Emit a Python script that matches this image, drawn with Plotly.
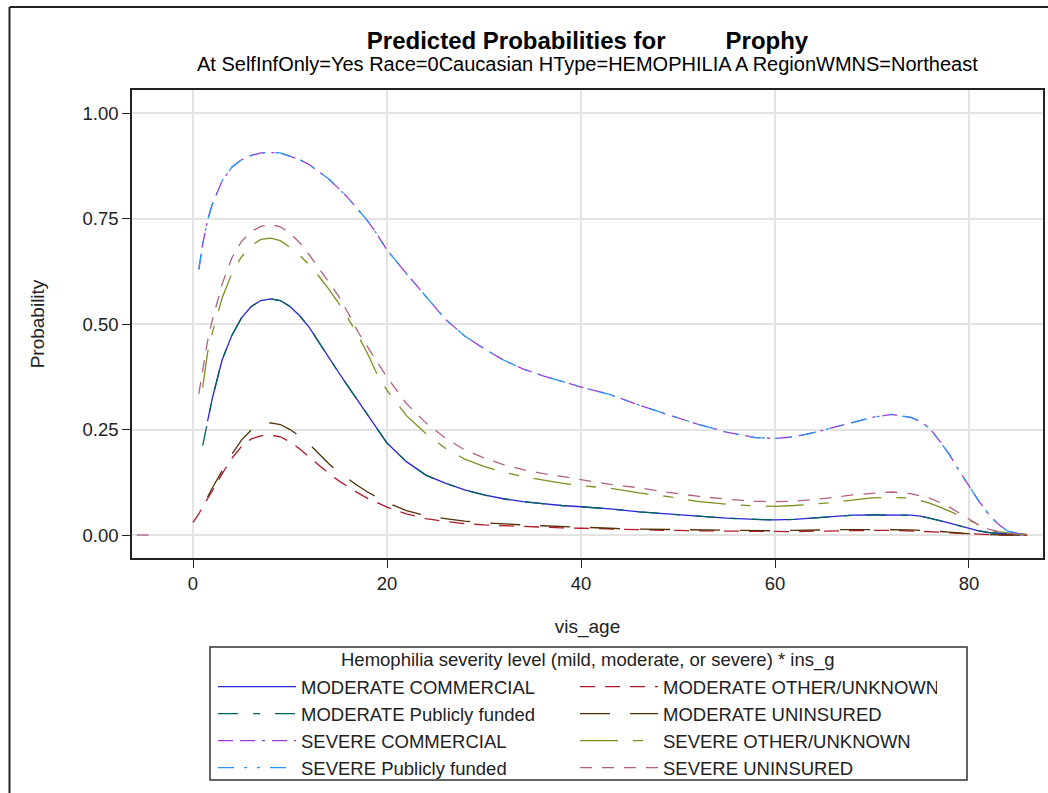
import plotly.graph_objects as go

N = None

# ---- data ----
AGE = [-5.8, -4.2, -3, 0, 0.6, 1, 1.5, 2,
       3, 4, 5, 6, 7, 8, 9, 10, 11, 12, 13, 14, 15, 16, 17, 18, 19, 20,
       22, 24, 26, 28, 30, 32, 34, 36, 38, 40,
       43, 46, 49, 52, 55, 58,
       60, 62, 64, 66, 68, 70, 72, 74,
       75, 76, 77, 78, 79, 80, 81, 82, 83, 84, 85, 86]

MOD_COMMERCIAL = [N, N, N, N, N, N, 0.270, 0.325,
                  0.415, 0.473, 0.515, 0.542, 0.556, 0.560, 0.556, 0.542, 0.520, 0.492, 0.456, 0.420, 0.386, 0.352, 0.318, 0.284, 0.250, 0.218,
                  0.174, 0.142, 0.123, 0.107, 0.095, 0.086, 0.079, 0.074, 0.070, 0.067,
                  0.062, 0.055, 0.050, 0.044, 0.040, 0.037,
                  0.036, 0.037, 0.040, 0.044, 0.047, 0.048, 0.048, 0.047,
                  0.045, 0.040, 0.034, 0.028, 0.022, 0.016, 0.010, 0.006, 0.004, 0.002, 0.001, 0.000]

MOD_OTHER = [N, N, N, 0.030, 0.050, 0.068, 0.085, 0.105,
             0.145, 0.182, 0.210, 0.228, 0.235, 0.237, 0.233, 0.221, 0.204, 0.184, 0.164, 0.146, 0.129, 0.114, 0.100, 0.087, 0.076, 0.066,
             0.050, 0.039, 0.032, 0.027, 0.024, 0.022, 0.020, 0.019, 0.017, 0.016,
             0.014, 0.012, 0.011, 0.010, 0.009, 0.008,
             0.008, 0.008, 0.009, 0.010, 0.010, 0.011, 0.011, 0.010,
             0.009, 0.008, 0.007, 0.005, 0.004, 0.002, 0.001, 0.000, 0.000, 0.000, 0.000, 0.000]

MOD_PUBLIC = [N, N, N, N, N, 0.212, 0.268, 0.325,
              0.415, 0.473, 0.515, 0.542, 0.556, 0.560, 0.556, 0.542, 0.520, 0.492, 0.456, 0.420, 0.386, 0.352, 0.318, 0.284, 0.250, 0.218,
              0.174, 0.142, 0.123, 0.107, 0.095, 0.086, 0.079, 0.074, 0.070, 0.067,
              0.062, 0.055, 0.050, 0.044, 0.040, 0.037,
              0.036, 0.037, 0.040, 0.044, 0.047, 0.048, 0.048, 0.047,
              0.045, 0.040, 0.034, 0.028, 0.022, 0.016, 0.010, 0.006, 0.004, 0.002, 0.001, 0.000]

MOD_UNINSURED = [N, N, N, N, N, N, 0.090, 0.112,
                 0.152, 0.192, 0.225, 0.249, 0.262, 0.266, 0.262, 0.250, 0.234, 0.215, 0.192, 0.169, 0.149, 0.132, 0.117, 0.102, 0.089, 0.077,
                 0.058, 0.046, 0.039, 0.033, 0.029, 0.026, 0.024, 0.022, 0.020, 0.018,
                 0.016, 0.014, 0.013, 0.012, 0.011, 0.010,
                 0.010, 0.011, 0.012, 0.013, 0.013, 0.013, 0.013, 0.012,
                 0.011, 0.010, 0.009, 0.007, 0.005, 0.003, 0.001, 0.001, 0.000, 0.000, 0.000, 0.000]

SEV_COMMERCIAL = [N, N, N, N, 0.630, 0.690, 0.747, 0.785,
                  0.840, 0.872, 0.890, 0.900, 0.906, 0.907, 0.906, 0.898, 0.890, 0.878, 0.862, 0.844, 0.822, 0.799, 0.772, 0.745, 0.712, 0.676,
                  0.620, 0.565, 0.512, 0.472, 0.442, 0.415, 0.394, 0.378, 0.364, 0.351,
                  0.333, 0.308, 0.285, 0.263, 0.244, 0.231,
                  0.229, 0.233, 0.243, 0.255, 0.266, 0.279, 0.286, 0.279,
                  0.269, 0.252, 0.222, 0.190, 0.152, 0.115, 0.081, 0.050, 0.026, 0.009, 0.004, 0.002]

SEV_OTHER = [N, N, N, N, N, 0.350, 0.432, 0.480,
             0.562, 0.620, 0.660, 0.686, 0.701, 0.704, 0.698, 0.682, 0.663, 0.640, 0.613, 0.583, 0.550, 0.513, 0.474, 0.430, 0.380, 0.343,
             0.283, 0.241, 0.206, 0.180, 0.163, 0.149, 0.139, 0.131, 0.123, 0.117,
             0.111, 0.100, 0.091, 0.080, 0.073, 0.069,
             0.068, 0.070, 0.073, 0.077, 0.083, 0.088, 0.089, 0.088,
             0.082, 0.075, 0.066, 0.057, 0.047, 0.035, 0.023, 0.013, 0.008, 0.005, 0.002, 0.001]

SEV_PUBLIC = [N, N, N, N, 0.630, 0.690, 0.747, 0.785,
              0.840, 0.872, 0.890, 0.900, 0.906, 0.907, 0.906, 0.898, 0.890, 0.878, 0.862, 0.844, 0.822, 0.799, 0.772, 0.745, 0.712, 0.676,
              0.620, 0.565, 0.512, 0.472, 0.442, 0.415, 0.394, 0.378, 0.364, 0.351,
              0.333, 0.308, 0.285, 0.263, 0.244, 0.231,
              0.229, 0.233, 0.243, 0.255, 0.266, 0.279, 0.286, 0.279,
              0.269, 0.252, 0.222, 0.190, 0.152, 0.115, 0.081, 0.050, 0.026, 0.009, 0.004, 0.002]

SEV_UNINSURED = [0.000, 0.000, N, N, 0.335, 0.395, 0.460, 0.510,
                 0.595, 0.657, 0.696, 0.720, 0.732, 0.736, 0.731, 0.716, 0.693, 0.664, 0.632, 0.600, 0.567, 0.526, 0.482, 0.446, 0.410, 0.374,
                 0.312, 0.266, 0.230, 0.202, 0.183, 0.167, 0.155, 0.146, 0.139, 0.131,
                 0.120, 0.112, 0.101, 0.092, 0.085, 0.080,
                 0.079, 0.080, 0.084, 0.089, 0.095, 0.098, 0.102, 0.098,
                 0.093, 0.087, 0.077, 0.066, 0.052, 0.037, 0.024, 0.014, 0.008, 0.004, 0.002, 0.001]

NAMES = ["MODERATE COMMERCIAL", "MODERATE OTHER/UNKNOWN",
         "MODERATE Publicly funded", "MODERATE UNINSURED",
         "SEVERE COMMERCIAL", "SEVERE OTHER/UNKNOWN",
         "SEVERE Publicly funded", "SEVERE UNINSURED"]
VALUES = [MOD_COMMERCIAL, MOD_OTHER, MOD_PUBLIC, MOD_UNINSURED,
          SEV_COMMERCIAL, SEV_OTHER, SEV_PUBLIC, SEV_UNINSURED]

X_TICKS = [0, 20, 40, 60, 80]
Y_TICKS = [0, 0.25, 0.5, 0.75, 1.0]

TITLE = "Predicted Probabilities for" + "\u00a0" * 9 + "Prophy"
SUBTITLE = "At SelfInfOnly=Yes Race=0Caucasian HType=HEMOPHILIA A RegionWMNS=Northeast"
LEGEND_TITLE = "Hemophilia severity level (mild, moderate, or severe) * ins_g"

# ---- styles ----
COLORS = ["#2A25D9", "#B2182B", "#01665E", "#543005",
          "#9D3CDB", "#7F8E1F", "#2597FA", "#B26084"]
DASHES = ["solid", "15px,10px", "20px,15px,7px,15px", "30px,20px",
          "15px,7px,15px,7px,3px,7px", "38px,15px,10px,15px",
          "16px,10px,3px,10px,3px,10px", "12px,10px"]

FONT = "Arial, Liberation Sans, Helvetica, sans-serif"

# plot-area pixel geometry (used to place paper-referenced decorations)
PL, PR, PT, PB = 132, 1043, 90, 558
PW, PH = PR - PL, PB - PT


def px(x):
    return (x - PL) / PW


def py(y):
    return (PB - y) / PH


fig = go.Figure()
for name, vals, col, dash in zip(NAMES, VALUES, COLORS, DASHES):
    fig.add_trace(go.Scatter(x=AGE, y=vals, mode="lines", name=name,
                             line=dict(color=col, width=1.3, dash=dash),
                             connectgaps=False))

axis_common = dict(showgrid=True, gridcolor="#e3e3e3", gridwidth=1.5,
                   zeroline=False, showline=True, linecolor="#222",
                   linewidth=1.5, mirror=True, ticks="outside", ticklen=8,
                   tickcolor="#222", tickwidth=1.2, automargin=False,
                   tickfont=dict(size=18.5, color="#222", family=FONT))

fig.update_layout(
    width=1048, height=793,
    margin=dict(l=PL, r=1048 - PR, t=PT, b=793 - PB, autoexpand=False),
    paper_bgcolor="white", plot_bgcolor="white",
    font=dict(family=FONT, size=19, color="black"),
    title=dict(text="<b>" + TITLE + "</b>", x=0.5, xref="paper",
               xanchor="center", y=1 - 41 / 793, yref="container",
               yanchor="middle", font=dict(size=24, color="black")),
    xaxis=dict(range=[-6.29, 87.63], tickvals=X_TICKS,
               title=dict(text="vis_age", standoff=27,
                          font=dict(size=19, color="#222")),
               **axis_common),
    yaxis=dict(range=[-0.0545, 1.0553], tickvals=Y_TICKS, tickformat=".2f",
               title=dict(text="Probability", standoff=33,
                          font=dict(size=19, color="#222")),
               **axis_common),
    legend=dict(orientation="h", x=px(213), xanchor="left",
                y=py(668), yanchor="top", borderwidth=0,
                bgcolor="rgba(0,0,0,0)", itemwidth=78, entrywidth=269,
                entrywidthmode="pixels", traceorder="normal",
                font=dict(size=18.5, color="#222")),
    annotations=[
        dict(text=SUBTITLE, x=0.5, xref="paper", xanchor="center",
             y=py(64), yref="paper", yanchor="middle",
             showarrow=False, font=dict(size=20, color="black")),
        dict(text=LEGEND_TITLE, x=px(588), xref="paper", xanchor="center",
             y=py(660), yref="paper", yanchor="middle",
             showarrow=False, font=dict(size=18.5, color="#222")),
    ],
    shapes=[
        dict(type="rect", xref="paper", yref="paper",
             x0=px(210), x1=px(967), y0=py(647), y1=py(780),
             line=dict(color="#333", width=1.5), fillcolor="rgba(0,0,0,0)"),
        dict(type="line", xref="paper", yref="paper",
             x0=px(9.5), x1=px(1060), y0=py(7), y1=py(7),
             line=dict(color="#222", width=2)),
        dict(type="line", xref="paper", yref="paper",
             x0=px(9.5), x1=px(9.5), y0=py(7), y1=py(810),
             line=dict(color="#222", width=2)),
    ],
)

fig.write_html("out.html")
